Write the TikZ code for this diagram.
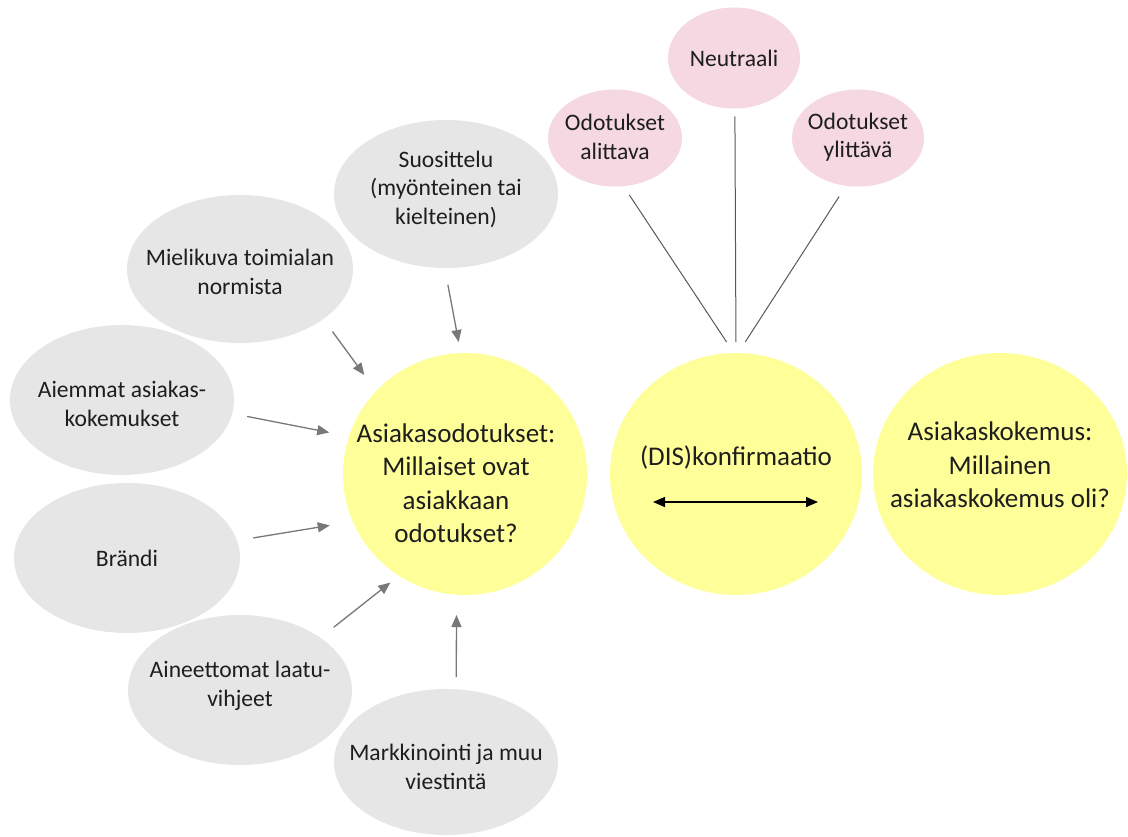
\documentclass[tikz,border=0pt]{standalone}
\usepackage{fontspec}
\setmainfont{Carlito}
\usetikzlibrary{arrows.meta,shapes.geometric}
\definecolor{txtc}{RGB}{30,30,30}
\definecolor{grayfill}{RGB}{230,230,230}
\definecolor{yelfill}{RGB}{255,255,153}
\definecolor{pinkfill}{RGB}{245,216,226}
\definecolor{arrc}{RGB}{120,120,120}
\definecolor{linec}{RGB}{89,89,89}
\tikzset{
  gbub/.style={ellipse, fill=grayfill, draw=none, inner sep=0pt, outer sep=0pt},
  ybub/.style={ellipse, fill=yelfill, draw=none, inner sep=0pt, outer sep=0pt},
  pbub/.style={ellipse, fill=pinkfill, draw=none, inner sep=0pt, outer sep=0pt},
  gtxt/.style={font=\fontsize{23.6}{28.5}\selectfont, align=center, text=txtc},
  ytxt/.style={font=\fontsize{27}{33.5}\selectfont, align=center, text=txtc},
  garr/.style={draw=arrc, line width=1.3pt, -{Triangle[length=12pt,width=10pt]}},
  plin/.style={draw=linec, line width=1pt},
  darr/.style={draw=black, line width=1.3pt, {Triangle[length=12pt,width=10pt]}-{Triangle[length=12pt,width=10pt]}}
}
\begin{document}
\begin{tikzpicture}[x=1pt,y=-1pt]
\useasboundingbox[fill=white] (0,0) rectangle (1128,836);
% gray bubbles
\node[gbub, minimum width=224pt, minimum height=148pt,
  label={[gtxt, yshift=5pt]center:Suosittelu\\(myönteinen tai\\kielteinen)}] (sus) at (446,194) {};
\node[gbub, minimum width=226pt, minimum height=148pt,
  label={[gtxt, yshift=-3pt]center:Mielikuva toimialan\\normista}] (mie) at (240,269) {};
\node[gbub, minimum width=224pt, minimum height=150pt,
  label={[gtxt, yshift=-4pt]center:Aiemmat asiakas-\\kokemukset}] (aie) at (122,400) {};
\node[gbub, minimum width=226pt, minimum height=150pt,
  label={[gtxt]center:Brändi}] (bra) at (127,558) {};
\node[gbub, minimum width=224pt, minimum height=150pt,
  label={[gtxt, yshift=4pt]center:Aineettomat laatu-\\vihjeet}] (ain) at (240,690) {};
\node[gbub, minimum width=224pt, minimum height=146pt,
  label={[gtxt, yshift=-5pt]center:Markkinointi ja muu\\viestintä}] (mk) at (446,762) {};
% yellow bubbles
\node[ybub, minimum width=244pt, minimum height=242pt,
  label={[ytxt, xshift=-9pt, yshift=-9pt]center:Asiakasodotukset:\\Millaiset ovat\\asiakkaan\\odotukset?}] (ao) at (465,474) {};
\node[ybub, minimum width=252pt, minimum height=242pt,
  label={[ytxt, yshift=17pt]center:(DIS)konfirmaatio}] (dk) at (736,474) {};
\node[ybub, minimum width=254pt, minimum height=242pt,
  label={[ytxt, yshift=9pt]center:Asiakaskokemus:\\Millainen\\asiakaskokemus oli?}] (ak) at (1000,474) {};
% pink bubbles
\node[pbub, minimum width=134pt, minimum height=97pt,
  label={[gtxt, yshift=1pt]center:Odotukset\\alittava}] (pa) at (615,138) {};
\node[pbub, minimum width=132pt, minimum height=101pt,
  label={[gtxt]center:Neutraali}] (pn) at (734,58) {};
\node[pbub, minimum width=132pt, minimum height=97pt,
  label={[gtxt, yshift=1pt]center:Odotukset\\ylittävä}] (py) at (858,138) {};
% gray arrows
\draw[garr, shorten <=17pt, shorten >=11.3pt] (sus.-91.7) -- (ao.92.3);
\draw[garr, shorten <=15.6pt, shorten >=20pt] (mie.-31.3) -- (ao.137.5);
\draw[garr, shorten <=15.3pt, shorten >=20.2pt] (aie.-7.3) -- (ao.162.1);
\draw[garr, shorten <=16.6pt, shorten >=23.4pt] (bra.9.4) -- (ao.-157.6);
\draw[garr, shorten <=17pt, shorten >=11pt] (ain.33.6) -- (ao.-123.2);
\draw[garr, shorten <=12.3pt, shorten >=20.3pt] (mk.82.2) -- (ao.-94.3);
% pink lines
\draw[plin, shorten <=10.6pt, shorten >=13.1pt] (pa.-80.3) -- (dk.91.8);
\draw[plin, shorten <=8pt, shorten >=11pt] (pn.-89.5) -- (dk.90);
\draw[plin, shorten <=12.9pt, shorten >=13.1pt] (py.-104) -- (dk.89.1);
% double arrow
\coordinate (dkl) at (653,502);
\coordinate (dkr) at (818,502);
\draw[darr] (dkl) -- (dkr);
\end{tikzpicture}
\end{document}
